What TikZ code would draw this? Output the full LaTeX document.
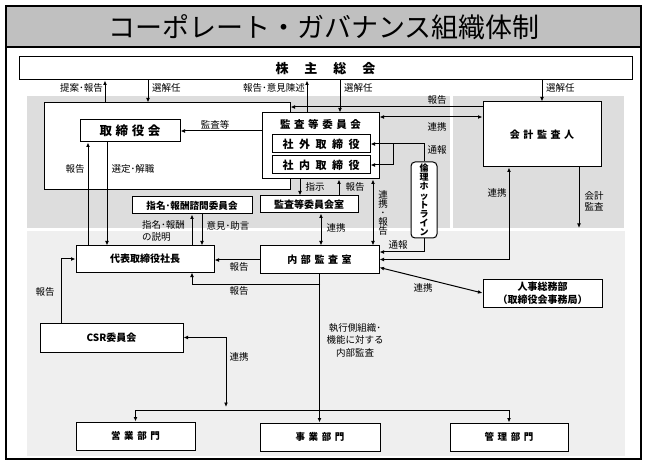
\documentclass[tikz,border=0pt]{standalone}
\usepackage{fontspec}
\setmainfont{Noto Sans CJK JP}
\usetikzlibrary{arrows.meta}
\definecolor{gdark}{HTML}{DDDDDD}
\definecolor{glight}{HTML}{EFEFEF}
\definecolor{gtitle}{HTML}{C0C0C0}
\newcommand{\gsp}{\hspace{3.6pt}}
\newcommand{\msp}{\hspace{5.5pt}}
\newcommand{\wsp}{\hspace{16pt}}
\begin{document}
\begin{tikzpicture}[x=1pt,y=-1pt,
  box/.style={draw, fill=white, line width=1pt, inner sep=0pt,
    font=\bfseries\fontsize{10}{12}\selectfont, align=center},
  lbl/.style={inner sep=0pt, font=\fontsize{9.5}{11}\selectfont},
  arr/.style={-{Latex[length=4.5pt,width=3.8pt]}, line width=1pt},
  darr/.style={{Latex[length=4.5pt,width=3.8pt]}-{Latex[length=4.5pt,width=3.8pt]}, line width=1pt}]
\useasboundingbox (0,0) rectangle (648,465);
\fill[white] (0,0) rectangle (648,465);
% backgrounds
\fill[gtitle] (6,6) rectangle (641,47);
\fill[gdark] (27,96) rectangle (450,228);
\fill[gdark] (453,96) rectangle (624,228);
\fill[glight] (27,231) rectangle (625,456);
\draw[line width=1.3pt] (6,6) rectangle (641,459);
\draw[line width=1.3pt] (6,47) -- (641,47);
\node[inner sep=0pt, font=\fontsize{27}{30}\selectfont] (title) at (324,27) {コーポレート・ガバナンス組織体制};
% boxes
\node[box, minimum width=613pt, minimum height=23pt, font=\bfseries\fontsize{13}{14}\selectfont] (sh) at (325.5,68.5) {株\wsp 主\wsp 総\wsp 会};
\node[box, minimum width=246pt, minimum height=87pt] (bigbox) at (167,146.5) {};
\node[box, minimum width=100pt, minimum height=22pt, font=\bfseries\fontsize{12.5}{14}\selectfont] (tori) at (130,131) {取\gsp 締\gsp 役\gsp 会};
\node[box, minimum width=117pt, minimum height=66pt] (kansa) at (320.5,146) {};
\node[inner sep=0pt, font=\bfseries\fontsize{10.5}{12}\selectfont] (kansat) at (320.5,124.5) {監\gsp 査\gsp 等\gsp 委\gsp 員\gsp 会};
\node[box, minimum width=98pt, minimum height=18pt, font=\bfseries\fontsize{11}{12}\selectfont] (shagai) at (321,144) {社\msp 外\msp 取\msp 締\msp 役};
\node[box, minimum width=98pt, minimum height=18pt, font=\bfseries\fontsize{11}{12}\selectfont] (shanai) at (321,165) {社\msp 内\msp 取\msp 締\msp 役};
\node[box, minimum width=118pt, minimum height=65pt] (kaikei) at (542,134.5) {会\gsp 計\gsp 監\gsp 査\gsp 人};
\node[box, minimum width=120pt, minimum height=17pt, font=\bfseries\fontsize{9.6}{11}\selectfont] (shimei) at (192,205.5) {指名･報酬諮問委員会};
\node[box, minimum width=98pt, minimum height=17pt] (shitsu) at (309,204.5) {監査等委員会室};
\node[box, rounded corners=4pt, minimum width=26pt, minimum height=76pt, font=\bfseries\fontsize{9}{9.2}\selectfont] (hotline) at (424,200) {倫\\理\\ホ\\ッ\\ト\\ラ\\イ\\ン};
\node[box, minimum width=138pt, minimum height=26pt] (shacho) at (145,259) {代表取締役社長};
\node[box, minimum width=119pt, minimum height=27pt] (naibu) at (319.5,259.5) {内\gsp 部\gsp 監\gsp 査\gsp 室};
\node[box, minimum width=119pt, minimum height=28pt, font=\bfseries\fontsize{10}{12.5}\selectfont] (jinji) at (542.5,293) {人事総務部\\（取締役会事務局）};
\node[box, minimum width=143pt, minimum height=29pt] (csr) at (111.5,337.5) {CSR委員会};
\node[box, minimum width=119pt, minimum height=28pt, font=\bfseries\fontsize{9.5}{12}\selectfont] (eigyo) at (135.5,436) {営\gsp 業\gsp 部\gsp 門};
\node[box, minimum width=120pt, minimum height=28pt, font=\bfseries\fontsize{9.5}{12}\selectfont] (jigyo) at (320,437) {事\gsp 業\gsp 部\gsp 門};
\node[box, minimum width=118pt, minimum height=28pt, font=\bfseries\fontsize{9.5}{12}\selectfont] (kanri) at (509,437) {管\gsp 理\gsp 部\gsp 門};
% connectors
\draw[arr] (105,0 |- bigbox.north) -- (105,0 |- sh.south);
\draw[arr] (148,0 |- sh.south) -- (148,0 |- bigbox.north);
\draw[arr] (307,0 |- kansa.north) -- (307,0 |- sh.south);
\draw[arr] (340,0 |- sh.south) -- (340,0 |- kansa.north);
\draw[arr] (kaikei.north |- sh.south) -- (kaikei.north);
\draw[arr] (kaikei.west |- 0,107) -- (bigbox.east |- 0,107);
\draw[darr] (kansa.east |- 0,117) -- (kaikei.west |- 0,117);
\draw[arr] (kansa.west |- tori.east) -- (tori.east);
\draw[arr] (hotline.north) |- (shagai.east);
\draw[arr] (393,0 |- shagai.east) |- (shanai.east);
\draw[arr] (hotline.south) -- (hotline.south |- 0,252) -- (naibu.east |- 0,252);
\draw[darr] (509,0 |- kaikei.south) |- (naibu.east);
\coordinate (kkend) at (579,228);
\draw[arr] (kkend |- kaikei.south) -- (kkend);
\draw[darr] (373,0 |- kansa.south) -- (373,0 |- naibu.north);
\draw[arr] (300,0 |- kansa.south) -- (300,0 |- shitsu.north);
\draw[arr] (339,0 |- shitsu.north) -- (339,0 |- kansa.south);
\draw[darr] (321,0 |- shitsu.south) -- (321,0 |- naibu.north);
\draw[arr] (192,0 |- shacho.north) -- (192,0 |- shimei.south);
\draw[arr] (202,0 |- shimei.south) -- (202,0 |- shacho.north);
\draw[arr] (88,0 |- shacho.north) -- (88,0 |- tori.south);
\draw[arr] (107,0 |- tori.south) -- (107,0 |- shacho.north);
\draw[arr] (naibu.west |- 0,260) -- (shacho.east |- 0,260);
\coordinate (br) at (320,284);
\draw[arr] (br) -| (192,0 |- shacho.south);
\draw[arr] (naibu.south) -- (naibu.south |- jigyo.north);
\draw[darr] ([yshift=6pt]naibu.south east) -- (jinji.west);
\draw[arr] (61,0 |- csr.north) |- (shacho.west);
\coordinate (csrend) at (226,407);
\draw[darr] (csr.east) -| (csrend);
\coordinate (dist) at (320,410);
\draw[arr] (dist) -| (eigyo.north);
\draw[arr] (dist) -| (kanri.north);
% labels
\node[lbl, anchor=east] (l1) at (103,88) {提案･報告};
\node[lbl, anchor=west] (l2) at (152,88) {選解任};
\node[lbl, anchor=east] (l3) at (305,88) {報告･意見陳述};
\node[lbl, anchor=west] (l4) at (344,88) {選解任};
\node[lbl, anchor=west] (l5) at (546,88) {選解任};
\node[lbl] (l6) at (437,100) {報告};
\node[lbl] (l7) at (437,127) {連携};
\node[lbl] (l8) at (215,125) {監査等};
\node[lbl] (l9) at (437,150) {通報};
\node[lbl] (l10) at (398,245) {通報};
\node[lbl] (l11) at (497,193) {連携};
\node[lbl, align=left] (l12) at (594,201) {会計\\監査};
\node[lbl, align=center, font=\fontsize{9.5}{9}\selectfont] (l13) at (383,213) {連\\携\\･\\報\\告};
\node[lbl] (l14) at (315,187) {指示};
\node[lbl] (l15) at (355,187) {報告};
\node[lbl] (l16) at (336,228) {連携};
\node[lbl, align=left, anchor=west, font=\fontsize{9.5}{12}\selectfont] (l17) at (142,231) {指名･報酬\\の説明};
\node[lbl] (l18) at (228,226) {意見･助言};
\node[lbl] (l19) at (75,169) {報告};
\node[lbl] (l20) at (133,169) {選定･解職};
\node[lbl] (l21) at (239,267) {報告};
\node[lbl] (l22) at (239,291) {報告};
\node[lbl] (l23) at (423,288) {連携};
\node[lbl] (l24) at (45,292) {報告};
\node[lbl] (l25) at (239,357) {連携};
\node[lbl, align=center, font=\fontsize{9.5}{12.5}\selectfont] (l26) at (355,340) {執行側組織･\\機能に対する\\内部監査};
\end{tikzpicture}
\end{document}
